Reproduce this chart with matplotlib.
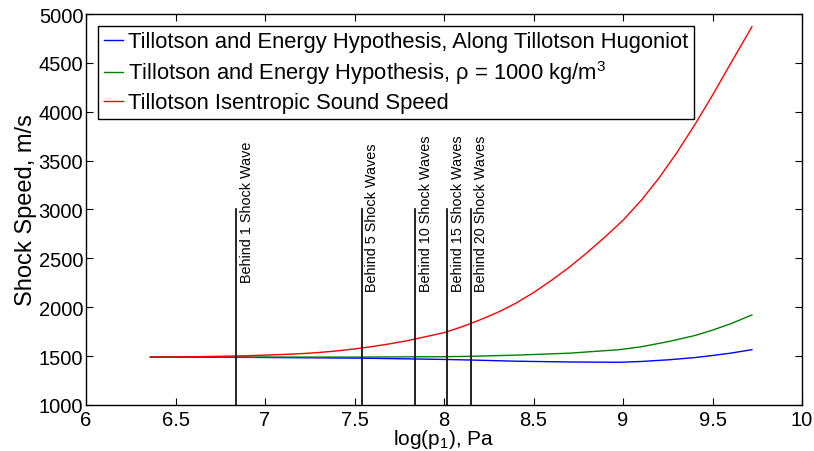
import matplotlib
matplotlib.use("Agg")
import matplotlib.pyplot as plt

plt.rcParams['font.family'] = ['Liberation Sans', 'DejaVu Sans']
plt.rcParams['mathtext.fontset'] = 'custom'
plt.rcParams['mathtext.rm'] = 'Liberation Sans'
plt.rcParams['mathtext.it'] = 'Liberation Sans'

# Tillotson isentropic sound speed (red)
red_x = [6.36, 6.5, 6.6, 6.7, 6.8, 6.9, 7.0, 7.1, 7.2, 7.3, 7.4, 7.5, 7.6, 7.7, 7.8,
         7.9, 8.0, 8.1, 8.2, 8.3, 8.4, 8.5, 8.6, 8.7, 8.8, 8.9, 9.0, 9.1, 9.2, 9.3,
         9.4, 9.5, 9.6, 9.72]
red_y = [1490, 1492, 1494, 1497, 1500, 1504, 1510, 1517, 1525, 1537, 1553, 1574, 1598,
         1627, 1660, 1700, 1740, 1800, 1870, 1948, 2040, 2150, 2275, 2410, 2560, 2720,
         2890, 3090, 3320, 3580, 3865, 4170, 4490, 4870]

# Tillotson + energy hypothesis, rho = 1000 (green)
green_x = [6.36, 7.0, 7.5, 8.0, 8.15, 8.4, 8.7, 8.98, 9.1, 9.26, 9.4, 9.49, 9.6, 9.72]
green_y = [1491, 1490, 1490, 1494, 1498, 1510, 1530, 1566, 1595, 1651, 1710, 1760, 1830, 1921]

# Tillotson + energy hypothesis, along Hugoniot (blue)
blue_x = [6.36, 6.84, 7.54, 8.0, 8.15, 8.4, 8.7, 8.98, 9.1, 9.26, 9.4, 9.49, 9.6, 9.72]
blue_y = [1491, 1488, 1479, 1466, 1460, 1448, 1440, 1437, 1445, 1463, 1485, 1504, 1530, 1566]

# shock wave markers
shock_x = [6.84, 7.54, 7.84, 8.017, 8.15]
shock_labels = ["Behind 1 Shock Wave", "Behind 5 Shock Waves", "Behind 10 Shock Waves",
                "Behind 15 Shock Waves", "Behind 20 Shock Waves"]
shock_label_y = [2255, 2170, 2170, 2170, 2170]
shock_top = 3000

legend_labels = ["Tillotson and Energy Hypothesis, Along Tillotson Hugoniot",
                 "Tillotson and Energy Hypothesis, $\\rho$ = 1000 kg/m$^3$",
                 "Tillotson Isentropic Sound Speed"]

fig = plt.figure(figsize=(8.14, 4.52), dpi=100)
ax = fig.add_axes([0.1057, 0.1018, 0.8796, 0.865])

ax.plot(blue_x, blue_y, color='#0000ff', lw=1.0, label=legend_labels[0])
ax.plot(green_x, green_y, color='#008000', lw=1.0, label=legend_labels[1])
ax.plot(red_x, red_y, color='#ff0000', lw=1.0, label=legend_labels[2])

for sx, lab, ly in zip(shock_x, shock_labels, shock_label_y):
    ax.plot([sx, sx], [1000, shock_top], color='black', lw=1.2)
    ax.annotate(lab, xy=(sx, ly), xytext=(2.5, 0), textcoords='offset points',
                rotation=90, ha='left', va='bottom', fontsize=10.4)

ax.set_xlim(6, 10)
ax.set_ylim(1000, 5000)
ax.set_xticks([6, 6.5, 7, 7.5, 8, 8.5, 9, 9.5, 10])
ax.set_xticklabels(['6', '6.5', '7', '7.5', '8', '8.5', '9', '9.5', '10'])
ax.set_yticks(range(1000, 5001, 500))
ax.tick_params(direction='in', top=True, right=True, labelsize=14.5, length=5, width=0.8, pad=2)
ax.tick_params(axis='x', pad=3.5)
for s in ax.spines.values():
    s.set_linewidth(1.0)

ax.set_xlabel("log(p$_1$), Pa", fontsize=15, labelpad=-1)
ax.set_ylabel("Shock Speed, m/s", fontsize=17, labelpad=1)

leg = ax.legend(loc='upper left', bbox_to_anchor=(0.017, 0.97), fontsize=15.8,
                handlelength=0.9, handletextpad=0.2, labelspacing=0.28,
                borderpad=0.25, fancybox=False, framealpha=1, edgecolor='black',
                borderaxespad=0)
leg.get_frame().set_linewidth(1.0)

fig.savefig("out.png", dpi=100)
